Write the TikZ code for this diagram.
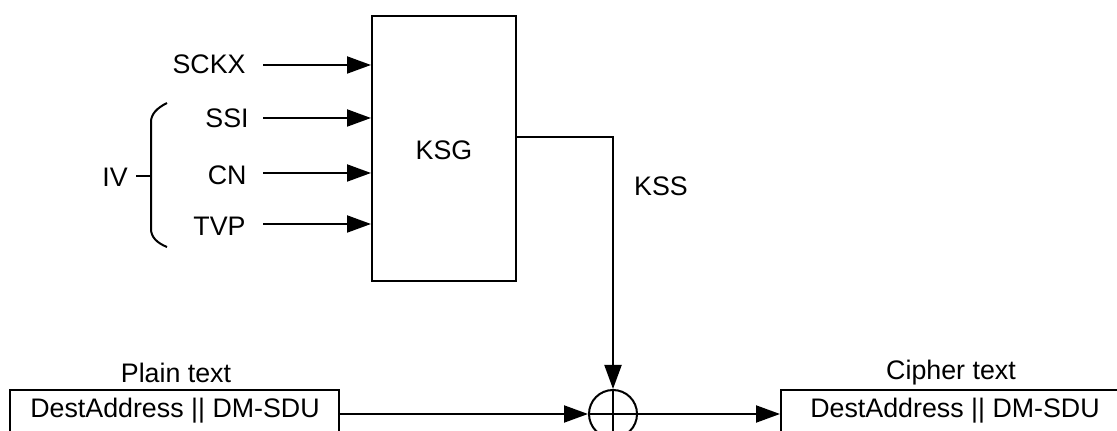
\documentclass[tikz,border=0pt]{standalone}
\usepackage{fontspec}
\setmainfont{Liberation Sans}
\usetikzlibrary{arrows.meta}
\begin{document}
\begin{tikzpicture}[x=0.5pt,y=-0.5pt,
  every node/.style={font=\fontsize{13.4}{15}\selectfont, inner sep=0pt},
  wire/.style={line width=1pt},
  arr/.style={wire, -{Triangle[length=12pt,width=8.5pt]}},
  boxstyle/.style={draw, line width=1pt, rectangle, inner sep=0pt},
  lbl/.style={anchor=east}]
\useasboundingbox (0,0) rectangle (1117,431);
\clip (0,0) rectangle (1117,431);
% KSG block
\node[boxstyle, minimum width=72pt, minimum height=132.5pt] (ksg) at (444,148.5) {};
\node (ksgl) at (444,150) {KSG};
% inputs
\node[lbl] (sckx) at (246,64) {SCKX};
\node[lbl] (ssi) at (249,118) {SSI};
\node[lbl] (cn) at (247,175) {CN};
\node[lbl] (tvp) at (246,226) {TVP};
\coordinate (s1) at (263,65);
\coordinate (s2) at (263,118);
\coordinate (s3) at (263,173);
\coordinate (s4) at (263,224);
\draw[arr] (s1) -- (s1 -| ksg.west);
\draw[arr] (s2) -- (s2 -| ksg.west);
\draw[arr] (s3) -- (s3 -| ksg.west);
\draw[arr] (s4) -- (s4 -| ksg.west);
% IV brace
\coordinate (bt) at (167,103);
\coordinate (bb) at (167,247);
\coordinate (bm) at (151,176);
\coordinate (tick) at (136,176);
\draw[wire] (bt) .. controls (157,108) and (151,114) .. (151,122) -- (151,229) .. controls (151,237) and (157,243) .. (bb);
\draw[wire] (tick) -- (bm);
\node (iv) at (115,177) {IV};
% XOR
\node[draw, circle, line width=1pt, minimum size=24pt] (xor) at (613,414) {};
\draw[wire] (xor.north) -- (xor.south);
\draw[wire] (xor.west) -- (xor.east);
% KSS path
\coordinate (kturn) at (613,137);
\draw[arr] (ksg.east |- kturn) -- (kturn) -- (xor.north);
\node (kss) at (661,186) {KSS};
% plain & cipher boxes
\node[boxstyle, minimum width=164.5pt, minimum height=24pt] (plain) at (174.5,414) {};
\node (plaint) at (175,411) {DestAddress || DM-SDU};
\node (plainl) at (176,373) {Plain text};
\node[boxstyle, minimum width=175pt, minimum height=48pt, anchor=north west] (cipher) at (780,389) {};
\node (ciphert) at (955,411) {DestAddress || DM-SDU};
\node (cipherl) at (951,373) {Cipher text};
\draw[arr] (plain.east) -- (xor.west);
\draw[arr] (xor.east) -- (xor.east -| cipher.west);
\end{tikzpicture}
\end{document}
